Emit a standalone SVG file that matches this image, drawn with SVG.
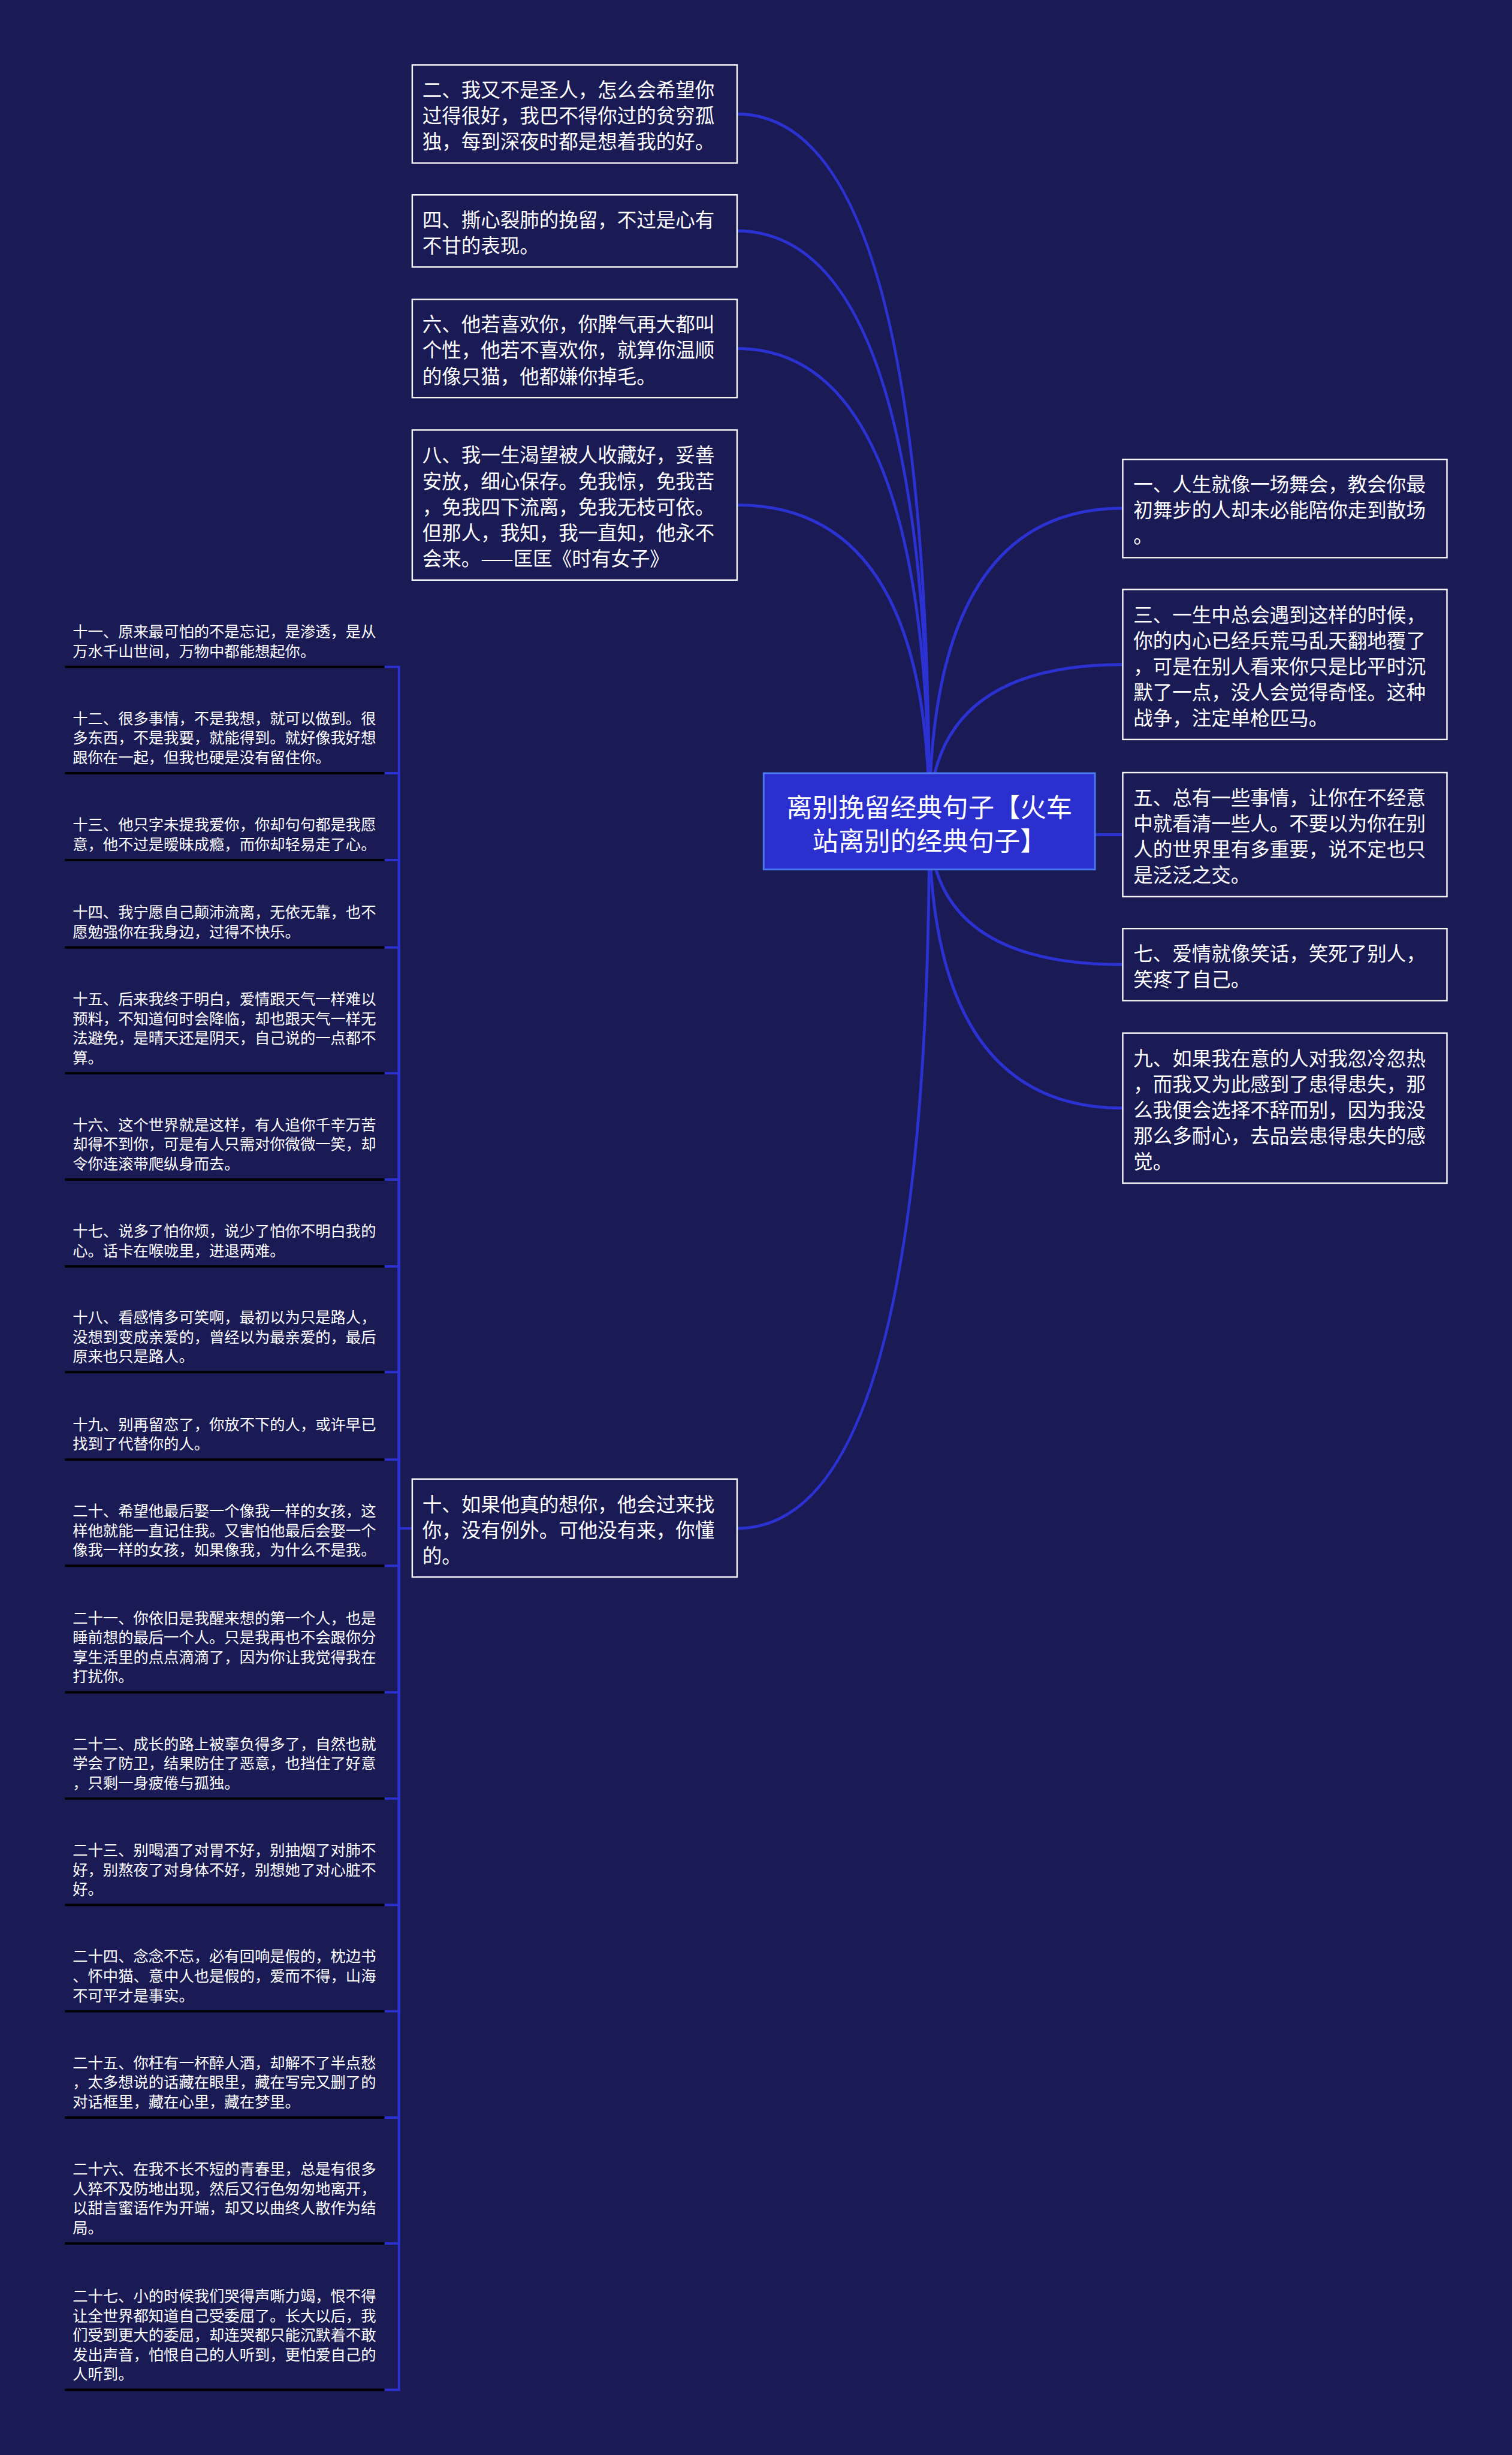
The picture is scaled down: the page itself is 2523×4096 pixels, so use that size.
<svg xmlns="http://www.w3.org/2000/svg" width="2523" height="4096" viewBox="0 0 2523 4096">
<style>
.bg{fill:#1a1a54}
.box{fill:#1a1a54;stroke:#f4f4f4;stroke-width:2.5}
.root{fill:#2a2fce;stroke:#4a78ee;stroke-width:3}
text{font-family:"Noto Sans CJK SC","Noto Sans CJK JP",sans-serif;fill:#ffffff;dominant-baseline:central}
.t33{font-size:33px}
.t26{font-size:25.7px}
.t44{font-size:44px;text-anchor:middle}
.conn{fill:none;stroke:#2c31d2;stroke-width:5}
.conn2{fill:none;stroke:#2c31d2;stroke-width:4}
.ul{stroke:#000000;stroke-width:4}
</style>
<rect class="bg" x="0" y="0" width="2523" height="4096"/>
<g transform="scale(0.9855)">
<g id="connectors">
<path class="conn" d="M1573.5,1390.5 Q1573.5,193 1248,193"/>
<path class="conn" d="M1573.5,1390.5 Q1573.5,391 1248,391"/>
<path class="conn" d="M1573.5,1390.5 Q1573.5,590 1248,590"/>
<path class="conn" d="M1573.5,1390.5 Q1573.5,855 1248,855"/>
<path class="conn" d="M1573.5,1390.5 Q1573.5,860.5 1901,860.5"/>
<path class="conn" d="M1573.5,1390.5 Q1573.5,1125 1901,1125"/>
<path class="conn" d="M1573.5,1390.5 Q1573.5,1413 1901,1413"/>
<path class="conn" d="M1573.5,1390.5 Q1573.5,1633 1901,1633"/>
<path class="conn" d="M1573.5,1390.5 Q1573.5,1876 1901,1876"/>
<path class="conn" d="M1573.5,1390.5 Q1573.5,2587.5 1248,2587.5"/>
<path class="conn2" d="M698,2587.5 H675.5 V1129 H651"/>
<path class="conn2" d="M698,2587.5 H675.5 V1309 H651"/>
<path class="conn2" d="M698,2587.5 H675.5 V1456 H651"/>
<path class="conn2" d="M698,2587.5 H675.5 V1604 H651"/>
<path class="conn2" d="M698,2587.5 H675.5 V1817 H651"/>
<path class="conn2" d="M698,2587.5 H675.5 V1997 H651"/>
<path class="conn2" d="M698,2587.5 H675.5 V2144 H651"/>
<path class="conn2" d="M698,2587.5 H675.5 V2323 H651"/>
<path class="conn2" d="M698,2587.5 H675.5 V2471 H651"/>
<path class="conn2" d="M698,2587.5 H675.5 V2651 H651"/>
<path class="conn2" d="M698,2587.5 H675.5 V2865 H651"/>
<path class="conn2" d="M698,2587.5 H675.5 V3045 H651"/>
<path class="conn2" d="M698,2587.5 H675.5 V3225 H651"/>
<path class="conn2" d="M698,2587.5 H675.5 V3405 H651"/>
<path class="conn2" d="M698,2587.5 H675.5 V3585 H651"/>
<path class="conn2" d="M698,2587.5 H675.5 V3798 H651"/>
<path class="conn2" d="M698,2587.5 H675.5 V4046 H651"/>
</g>
<g id="root">
<rect class="root" x="1293" y="1309" width="561" height="163"/>
<text class="t44"><tspan x="1573.5" y="1364">离别挽留经典句子【火车</tspan><tspan x="1573.5" y="1421">站离别的经典句子】</tspan></text>
</g>
<g id="n2">
<rect class="box" x="698" y="110" width="550" height="166"/>
<text class="t33"><tspan x="715" y="149.3">二、我又不是圣人，怎么会希望你</tspan><tspan x="715" y="193">过得很好，我巴不得你过的贫穷孤</tspan><tspan x="715" y="236.7">独，每到深夜时都是想着我的好。</tspan></text>
</g>
<g id="n4">
<rect class="box" x="698" y="330" width="550" height="122"/>
<text class="t33"><tspan x="715" y="369.2">四、撕心裂肺的挽留，不过是心有</tspan><tspan x="715" y="412.9">不甘的表现。</tspan></text>
</g>
<g id="n6">
<rect class="box" x="698" y="507" width="550" height="166"/>
<text class="t33"><tspan x="715" y="546.3">六、他若喜欢你，你脾气再大都叫</tspan><tspan x="715" y="590">个性，他若不喜欢你，就算你温顺</tspan><tspan x="715" y="633.7">的像只猫，他都嫌你掉毛。</tspan></text>
</g>
<g id="n8">
<rect class="box" x="698" y="728" width="550" height="254"/>
<text class="t33"><tspan x="715" y="767.6">八、我一生渴望被人收藏好，妥善</tspan><tspan x="715" y="811.3">安放，细心保存。免我惊，免我苦</tspan><tspan x="715" y="855">，免我四下流离，免我无枝可依。</tspan><tspan x="715" y="898.7">但那人，我知，我一直知，他永不</tspan><tspan x="715" y="942.4">会来。——匡匡《时有女子》</tspan></text>
</g>
<g id="n1">
<rect class="box" x="1901" y="778" width="549" height="166"/>
<text class="t33"><tspan x="1919" y="816.8">一、人生就像一场舞会，教会你最</tspan><tspan x="1919" y="860.5">初舞步的人却未必能陪你走到散场</tspan><tspan x="1919" y="904.2">。</tspan></text>
</g>
<g id="n3">
<rect class="box" x="1901" y="998" width="549" height="254"/>
<text class="t33"><tspan x="1919" y="1037.6">三、一生中总会遇到这样的时候，</tspan><tspan x="1919" y="1081.3">你的内心已经兵荒马乱天翻地覆了</tspan><tspan x="1919" y="1125">，可是在别人看来你只是比平时沉</tspan><tspan x="1919" y="1168.7">默了一点，没人会觉得奇怪。这种</tspan><tspan x="1919" y="1212.4">战争，注定单枪匹马。</tspan></text>
</g>
<g id="n5">
<rect class="box" x="1901" y="1308" width="549" height="210"/>
<text class="t33"><tspan x="1919" y="1347.5">五、总有一些事情，让你在不经意</tspan><tspan x="1919" y="1391.2">中就看清一些人。不要以为你在别</tspan><tspan x="1919" y="1434.9">人的世界里有多重要，说不定也只</tspan><tspan x="1919" y="1478.6">是泛泛之交。</tspan></text>
</g>
<g id="n7">
<rect class="box" x="1901" y="1572" width="549" height="122"/>
<text class="t33"><tspan x="1919" y="1611.2">七、爱情就像笑话，笑死了别人，</tspan><tspan x="1919" y="1654.9">笑疼了自己。</tspan></text>
</g>
<g id="n9">
<rect class="box" x="1901" y="1749" width="549" height="254"/>
<text class="t33"><tspan x="1919" y="1788.6">九、如果我在意的人对我忽冷忽热</tspan><tspan x="1919" y="1832.3">，而我又为此感到了患得患失，那</tspan><tspan x="1919" y="1876">么我便会选择不辞而别，因为我没</tspan><tspan x="1919" y="1919.7">那么多耐心，去品尝患得患失的感</tspan><tspan x="1919" y="1963.4">觉。</tspan></text>
</g>
<g id="n10">
<rect class="box" x="698" y="2504" width="550" height="166"/>
<text class="t33"><tspan x="715" y="2543.8">十、如果他真的想你，他会过来找</tspan><tspan x="715" y="2587.5">你，没有例外。可他没有来，你懂</tspan><tspan x="715" y="2631.2">的。</tspan></text>
</g>
<g id="n11">
<line class="ul" x1="110" y1="1129" x2="651" y2="1129"/>
<text class="t26"><tspan x="123" y="1067.5">十一、原来最可怕的不是忘记，是渗透，是从</tspan><tspan x="123" y="1100.5">万水千山世间，万物中都能想起你。</tspan></text>
</g>
<g id="n12">
<line class="ul" x1="110" y1="1309" x2="651" y2="1309"/>
<text class="t26"><tspan x="123" y="1214.5">十二、很多事情，不是我想，就可以做到。很</tspan><tspan x="123" y="1247.5">多东西，不是我要，就能得到。就好像我好想</tspan><tspan x="123" y="1280.5">跟你在一起，但我也硬是没有留住你。</tspan></text>
</g>
<g id="n13">
<line class="ul" x1="110" y1="1456" x2="651" y2="1456"/>
<text class="t26"><tspan x="123" y="1394.5">十三、他只字未提我爱你，你却句句都是我愿</tspan><tspan x="123" y="1427.5">意，他不过是暧昧成瘾，而你却轻易走了心。</tspan></text>
</g>
<g id="n14">
<line class="ul" x1="110" y1="1604" x2="651" y2="1604"/>
<text class="t26"><tspan x="123" y="1542.5">十四、我宁愿自己颠沛流离，无依无靠，也不</tspan><tspan x="123" y="1575.5">愿勉强你在我身边，过得不快乐。</tspan></text>
</g>
<g id="n15">
<line class="ul" x1="110" y1="1817" x2="651" y2="1817"/>
<text class="t26"><tspan x="123" y="1689.5">十五、后来我终于明白，爱情跟天气一样难以</tspan><tspan x="123" y="1722.5">预料，不知道何时会降临，却也跟天气一样无</tspan><tspan x="123" y="1755.5">法避免，是晴天还是阴天，自己说的一点都不</tspan><tspan x="123" y="1788.5">算。</tspan></text>
</g>
<g id="n16">
<line class="ul" x1="110" y1="1997" x2="651" y2="1997"/>
<text class="t26"><tspan x="123" y="1902.5">十六、这个世界就是这样，有人追你千辛万苦</tspan><tspan x="123" y="1935.5">却得不到你，可是有人只需对你微微一笑，却</tspan><tspan x="123" y="1968.5">令你连滚带爬纵身而去。</tspan></text>
</g>
<g id="n17">
<line class="ul" x1="110" y1="2144" x2="651" y2="2144"/>
<text class="t26"><tspan x="123" y="2082.5">十七、说多了怕你烦，说少了怕你不明白我的</tspan><tspan x="123" y="2115.5">心。话卡在喉咙里，进退两难。</tspan></text>
</g>
<g id="n18">
<line class="ul" x1="110" y1="2323" x2="651" y2="2323"/>
<text class="t26"><tspan x="123" y="2228.5">十八、看感情多可笑啊，最初以为只是路人，</tspan><tspan x="123" y="2261.5">没想到变成亲爱的，曾经以为最亲爱的，最后</tspan><tspan x="123" y="2294.5">原来也只是路人。</tspan></text>
</g>
<g id="n19">
<line class="ul" x1="110" y1="2471" x2="651" y2="2471"/>
<text class="t26"><tspan x="123" y="2409.5">十九、别再留恋了，你放不下的人，或许早已</tspan><tspan x="123" y="2442.5">找到了代替你的人。</tspan></text>
</g>
<g id="n20">
<line class="ul" x1="110" y1="2651" x2="651" y2="2651"/>
<text class="t26"><tspan x="123" y="2556.5">二十、希望他最后娶一个像我一样的女孩，这</tspan><tspan x="123" y="2589.5">样他就能一直记住我。又害怕他最后会娶一个</tspan><tspan x="123" y="2622.5">像我一样的女孩，如果像我，为什么不是我。</tspan></text>
</g>
<g id="n21">
<line class="ul" x1="110" y1="2865" x2="651" y2="2865"/>
<text class="t26"><tspan x="123" y="2737.5">二十一、你依旧是我醒来想的第一个人，也是</tspan><tspan x="123" y="2770.5">睡前想的最后一个人。只是我再也不会跟你分</tspan><tspan x="123" y="2803.5">享生活里的点点滴滴了，因为你让我觉得我在</tspan><tspan x="123" y="2836.5">打扰你。</tspan></text>
</g>
<g id="n22">
<line class="ul" x1="110" y1="3045" x2="651" y2="3045"/>
<text class="t26"><tspan x="123" y="2950.5">二十二、成长的路上被辜负得多了，自然也就</tspan><tspan x="123" y="2983.5">学会了防卫，结果防住了恶意，也挡住了好意</tspan><tspan x="123" y="3016.5">，只剩一身疲倦与孤独。</tspan></text>
</g>
<g id="n23">
<line class="ul" x1="110" y1="3225" x2="651" y2="3225"/>
<text class="t26"><tspan x="123" y="3130.5">二十三、别喝酒了对胃不好，别抽烟了对肺不</tspan><tspan x="123" y="3163.5">好，别熬夜了对身体不好，别想她了对心脏不</tspan><tspan x="123" y="3196.5">好。</tspan></text>
</g>
<g id="n24">
<line class="ul" x1="110" y1="3405" x2="651" y2="3405"/>
<text class="t26"><tspan x="123" y="3310.5">二十四、念念不忘，必有回响是假的，枕边书</tspan><tspan x="123" y="3343.5">、怀中猫、意中人也是假的，爱而不得，山海</tspan><tspan x="123" y="3376.5">不可平才是事实。</tspan></text>
</g>
<g id="n25">
<line class="ul" x1="110" y1="3585" x2="651" y2="3585"/>
<text class="t26"><tspan x="123" y="3490.5">二十五、你枉有一杯醉人酒，却解不了半点愁</tspan><tspan x="123" y="3523.5">，太多想说的话藏在眼里，藏在写完又删了的</tspan><tspan x="123" y="3556.5">对话框里，藏在心里，藏在梦里。</tspan></text>
</g>
<g id="n26">
<line class="ul" x1="110" y1="3798" x2="651" y2="3798"/>
<text class="t26"><tspan x="123" y="3670.5">二十六、在我不长不短的青春里，总是有很多</tspan><tspan x="123" y="3703.5">人猝不及防地出现，然后又行色匆匆地离开，</tspan><tspan x="123" y="3736.5">以甜言蜜语作为开端，却又以曲终人散作为结</tspan><tspan x="123" y="3769.5">局。</tspan></text>
</g>
<g id="n27">
<line class="ul" x1="110" y1="4046" x2="651" y2="4046"/>
<text class="t26"><tspan x="123" y="3885.5">二十七、小的时候我们哭得声嘶力竭，恨不得</tspan><tspan x="123" y="3918.5">让全世界都知道自己受委屈了。长大以后，我</tspan><tspan x="123" y="3951.5">们受到更大的委屈，却连哭都只能沉默着不敢</tspan><tspan x="123" y="3984.5">发出声音，怕恨自己的人听到，更怕爱自己的</tspan><tspan x="123" y="4017.5">人听到。</tspan></text>
</g>
</g>
</svg>
